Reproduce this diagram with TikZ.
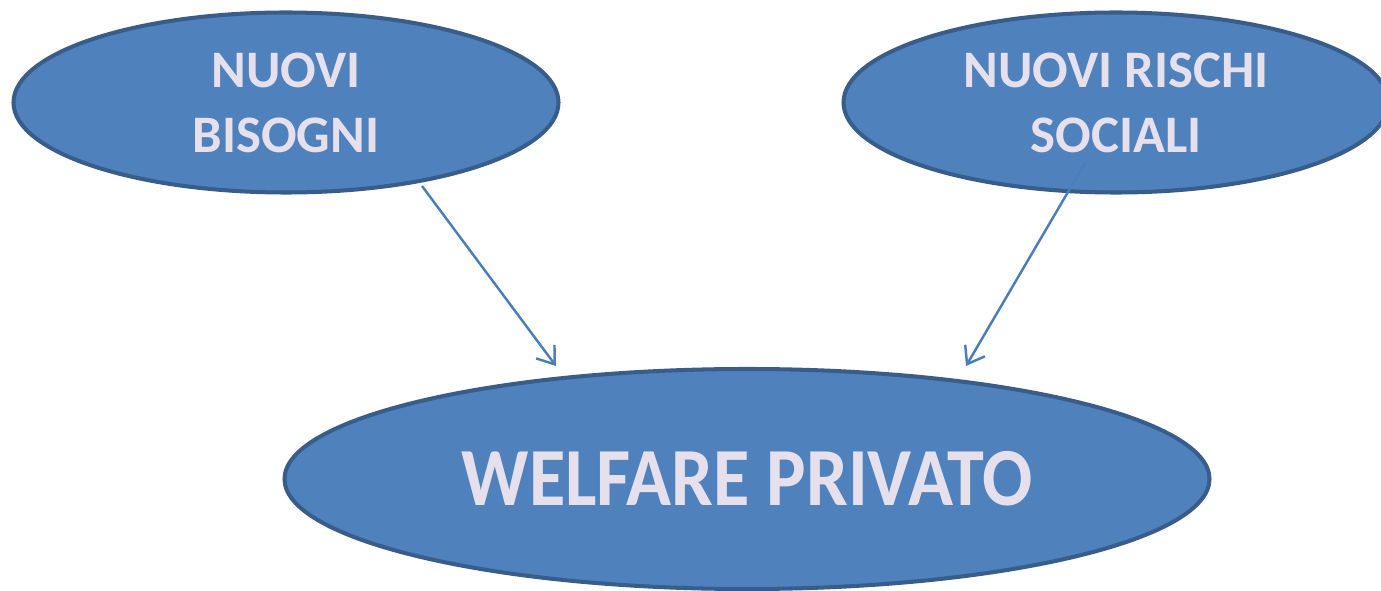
\documentclass[tikz,border=0pt]{standalone}
\usepackage{fontspec}
\setmainfont{Carlito}
\usepackage{xcolor}
\usepackage{graphicx}
\usetikzlibrary{shapes.geometric, arrows.meta, positioning}

\definecolor{bubblefill}{HTML}{4F81BD}
\definecolor{bubbleline}{HTML}{385D8A}
\definecolor{bubbletext}{HTML}{E6E0EC}
\definecolor{arrowline}{HTML}{4A7EBB}

\begin{document}
\begin{tikzpicture}[>={Straight Barb[length=9pt, width=13pt]},
    bubble/.style={ellipse, draw=bubbleline, fill=bubblefill, line width=2.3pt,
        text=bubbletext, font=\bfseries\fontsize{30}{37}\selectfont,
        align=center, inner sep=0pt, minimum width=10.9cm, minimum height=3.6cm},
    link/.style={->, draw=arrowline, line width=1.4pt}]
    \useasboundingbox (0, 0) rectangle (27.62, 11.8);
    \node [bubble] (needs) at (5.72, 9.75) {NUOVI\\BISOGNI};
    \node [bubble] (risks) at (22.32, 9.75) {NUOVI RISCHI\\SOCIALI};
    \node [bubble, minimum width=18.5cm, minimum height=4.4cm,
        font=\bfseries\fontsize{47}{56}\selectfont] (welfare) at (14.94, 2.22)
        {\scalebox{0.9}[1]{WELFARE PRIVATO}};
    % arrow ends sit just above the big ellipse
    \coordinate (needsout) at (8.44, 8.08);
    \coordinate (risksout) at (21.70, 8.54);
    \coordinate (welfareleft) at (11.12, 4.48);
    \coordinate (welfareright) at (19.32, 4.48);
    \path [link] (needsout) -- (welfareleft);
    \path [link] (risksout) -- (welfareright);
\end{tikzpicture}
\end{document}
